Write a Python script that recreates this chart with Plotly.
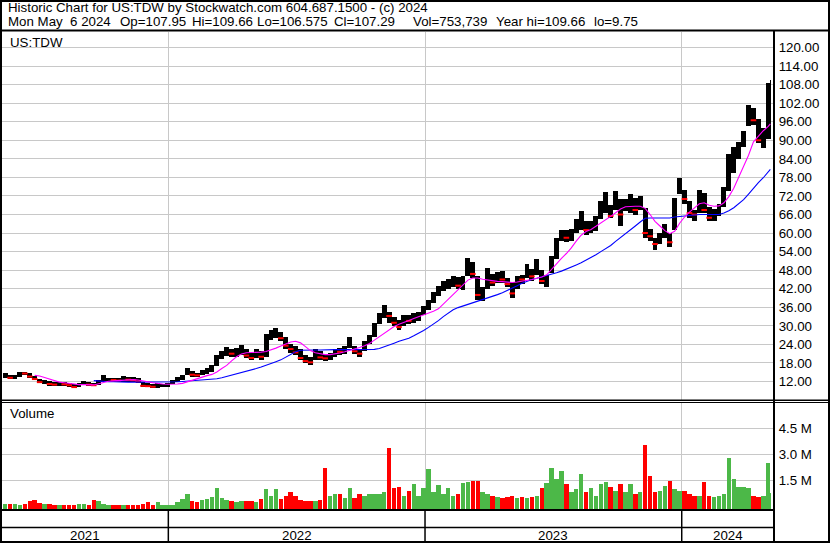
import pandas as pd
import plotly.graph_objects as go

# ---------------- data (weekly readings, last entry = single day May 6 2024) ----------------
week_dates = list(pd.date_range("2021-05-14", periods=156, freq="7D").strftime("%Y-%m-%d")) + ["2024-05-06"]

high = [14.9, 14.2, 14.0, 15.2, 15.2, 14.7, 13.9, 12.9, 12.5, 12.2,
        11.9, 11.8, 12.0, 11.6, 11.2, 11.6, 12.1, 11.8, 11.6, 12.5,
        14.0, 13.1, 13.2, 13.0, 13.8, 13.3, 13.5, 13.0, 11.8, 11.4,
        11.1, 11.4, 11.3, 11.5, 12.4, 13.3, 14.2, 16.4, 15.3, 14.8,
        15.7, 16.4, 17.5, 20.5, 22.0, 23.2, 22.5, 22.7, 23.8, 22.6,
        21.2, 22.6, 21.8, 27.5, 28.6, 29.2, 28.0, 26.5, 24.0, 23.6,
        22.5, 20.6, 20.0, 22.4, 21.8, 20.8, 21.2, 22.5, 22.8, 23.4,
        26.4, 23.6, 22.6, 25.0, 27.0, 31.0, 34.0, 36.9, 34.5, 33.0,
        31.8, 33.4, 33.5, 34.0, 34.5, 36.5, 38.5, 41.0, 43.0, 44.5,
        45.0, 46.0, 45.8, 46.0, 51.8, 50.5, 46.0, 42.5, 48.6, 46.8,
        47.5, 47.6, 45.6, 44.2, 46.2, 46.5, 50.0, 48.5, 51.5, 48.0,
        46.5, 52.5, 58.5, 61.0, 61.0, 61.2, 64.5, 67.0, 64.0, 64.0,
        65.5, 70.5, 73.3, 69.0, 73.6, 71.0, 71.0, 72.5, 71.5, 72.0,
        68.0, 61.2, 58.5, 60.0, 62.8, 60.0, 71.5, 77.7, 74.0, 70.5,
        67.5, 74.0, 73.0, 68.5, 67.8, 69.5, 75.0, 85.5, 88.0, 89.5,
        93.0, 101.3, 100.5, 97.0, 94.0, 108.5, 109.66]

low = [13.0, 12.7, 12.9, 13.6, 14.1, 13.2, 12.5, 11.4, 11.3, 10.7,
       10.5, 10.7, 10.7, 10.3, 9.75, 10.3, 10.9, 10.6, 10.4, 10.8,
       11.7, 11.8, 11.9, 11.8, 12.0, 11.8, 11.9, 11.6, 10.1, 10.1,
       9.8, 10.0, 10.3, 10.2, 11.1, 11.8, 12.4, 14.0, 13.6, 13.5,
       14.0, 14.5, 15.0, 17.0, 19.2, 20.4, 19.8, 20.0, 20.6, 19.7,
       18.8, 19.5, 19.1, 20.0, 25.5, 26.0, 25.2, 22.5, 21.2, 20.6,
       19.0, 18.0, 17.5, 18.8, 19.0, 18.5, 18.8, 19.8, 20.6, 21.0,
       22.9, 21.0, 19.9, 22.0, 24.2, 26.5, 30.5, 32.5, 31.0, 30.0,
       28.6, 29.8, 30.5, 31.0, 31.5, 33.5, 35.0, 37.5, 39.5, 41.2,
       41.8, 42.5, 42.0, 41.5, 46.0, 45.5, 38.5, 38.0, 42.0, 43.0,
       44.0, 44.0, 42.5, 39.0, 42.0, 43.5, 45.5, 44.5, 46.5, 43.5,
       42.5, 47.0, 51.5, 57.5, 57.2, 57.5, 60.0, 61.0, 59.5, 60.0,
       60.8, 64.5, 66.5, 64.8, 67.5, 62.2, 67.0, 66.5, 66.0, 67.5,
       58.5, 57.5, 54.5, 56.5, 58.5, 55.5, 61.0, 72.5, 69.5, 65.0,
       64.0, 66.5, 66.5, 63.8, 64.0, 65.5, 68.5, 73.5, 79.5, 84.0,
       88.0, 94.5, 95.0, 89.0, 87.5, 90.5, 106.575]

close = [14.2, 13.2, 13.5, 14.9, 14.6, 13.6, 12.8, 11.8, 12.0, 11.2,
         11.0, 11.3, 11.1, 10.8, 10.2, 11.3, 11.6, 11.0, 10.8, 12.2,
         12.6, 12.7, 12.5, 12.3, 13.0, 12.6, 12.4, 12.0, 10.6, 10.5,
         10.3, 10.4, 10.6, 11.2, 12.0, 12.8, 13.9, 15.0, 14.2, 14.0,
         15.0, 15.6, 17.0, 19.8, 21.2, 21.5, 21.0, 21.6, 22.8, 20.4,
         19.6, 21.0, 20.0, 26.4, 27.0, 27.5, 26.0, 23.6, 22.5, 21.4,
         19.6, 18.6, 18.2, 21.0, 19.8, 19.5, 20.6, 21.8, 21.6, 22.6,
         25.0, 21.8, 21.0, 24.2, 26.3, 30.2, 32.0, 35.0, 33.2, 31.0,
         29.6, 32.2, 31.6, 32.5, 33.8, 35.8, 37.8, 40.0, 41.5, 43.0,
         43.5, 45.2, 43.0, 45.5, 49.5, 46.8, 40.0, 41.5, 45.0, 44.0,
         46.5, 45.0, 43.5, 40.5, 45.5, 45.0, 48.5, 46.0, 48.0, 44.5,
         46.0, 51.5, 56.0, 59.5, 58.5, 59.0, 63.0, 64.5, 61.0, 61.5,
         64.0, 68.0, 68.5, 65.5, 70.5, 66.0, 69.5, 70.5, 67.5, 70.0,
         60.0, 59.0, 56.5, 59.0, 60.0, 57.0, 70.5, 74.5, 71.0, 66.5,
         66.0, 71.5, 67.5, 65.0, 66.5, 68.5, 73.5, 82.0, 85.5, 88.0,
         91.5, 97.5, 96.5, 90.0, 92.5, 106.5, 107.29]

ma_fast = [None, None, None, None, None, None, 14.0, 13.8, 13.3, 12.8,
           12.2, 11.8, 11.6, 11.4, 11.1, 11.0, 11.0, 11.0, 10.9, 11.3,
           11.8, 12.1, 12.2, 12.3, 12.4, 12.6, 12.6, 12.5, 12.3, 11.9,
           11.6, 11.3, 11.2, 11.1, 11.1, 11.2, 11.4, 11.9, 12.5, 13.1,
           13.6, 13.9, 14.3, 15.1, 16.2, 17.2, 18.7, 20.0, 20.9, 21.3,
           21.4, 21.4, 21.5, 21.7, 22.2, 22.8, 23.5, 24.2, 24.8, 25.0,
           24.5, 23.3, 22.0, 21.3, 20.9, 20.7, 20.7, 20.9, 21.2, 21.6,
           22.0, 22.5, 23.0, 23.6, 24.3, 25.4, 26.5, 27.6, 28.8, 29.8,
           30.5, 31.0, 31.7, 32.4, 33.0, 33.5, 34.0, 34.7, 35.5, 37.0,
           38.8, 40.3, 41.7, 43.3, 44.8, 45.5, 45.5, 45.1, 44.8, 44.5,
           44.4, 44.3, 44.1, 44.0, 44.2, 44.4, 44.8, 45.0, 45.4, 45.8,
           46.5, 48.3, 50.2, 51.8, 53.4, 55.2, 57.4, 59.3, 60.5, 61.2,
           62.2, 63.2, 64.3, 65.4, 66.6, 67.8, 68.5, 68.7, 68.7, 68.7,
           68.0, 66.0, 63.8, 62.3, 60.8, 59.8, 60.6, 63.2, 65.2, 66.8,
           68.2, 69.5, 69.8, 69.0, 68.7, 68.8, 69.8, 71.8, 74.5, 78.0,
           81.5, 85.2, 89.5, 91.4, 93.1, 94.5, 95.3]

ma_slow = [None, None, None, None, None, None, None, None, None, None,
           None, None, None, None, None, None, None, None, 12.3, 12.1,
           12.0, 11.9, 11.9, 11.8, 11.8, 11.8, 11.8, 11.8, 11.7, 11.7,
           11.7, 11.7, 11.7, 11.8, 11.8, 11.9, 12.0, 12.1, 12.2, 12.4,
           12.5, 12.6, 12.7, 12.9, 13.2, 13.6, 14.0, 14.5, 15.0, 15.4,
           15.8, 16.2, 16.7, 17.2, 17.8, 18.4, 19.0, 19.8, 20.8, 21.6,
           22.1, 22.2, 22.2, 22.2, 22.2, 22.3, 22.3, 22.3, 22.3, 22.3,
           22.3, 22.3, 22.3, 22.3, 22.3, 22.4, 22.7, 23.2, 23.8, 24.4,
           25.0, 25.5, 26.0, 26.8, 27.6, 28.5, 29.5, 30.5, 31.7, 33.0,
           34.2, 35.2, 35.9, 36.4, 37.0, 37.5, 38.0, 38.5, 39.0, 39.6,
           40.1, 40.7, 41.4, 42.2, 43.0, 43.8, 44.5, 45.0, 45.4, 45.8,
           46.2, 46.7, 47.2, 47.7, 48.3, 49.0, 49.7, 50.4, 51.2, 52.0,
           53.0, 54.0, 55.0, 56.0, 57.3, 58.5, 59.8, 61.0, 62.3, 63.6,
           64.8, 64.9, 64.9, 64.9, 64.9, 64.9, 65.2, 65.4, 65.6, 65.8,
           65.9, 66.0, 66.0, 66.0, 66.0, 66.0, 66.5, 67.2, 68.2, 69.4,
           70.8, 72.6, 74.6, 76.3, 77.9, 79.6, 80.6]

volume_m = [0.12, 0.15, 0.13, 0.10, 0.12, 0.30, 0.35, 0.18, 0.15, 0.15,
            0.08, 0.08, 0.07, 0.08, 0.10, 0.15, 0.12, 0.08, 0.35, 0.30,
            0.12, 0.10, 0.10, 0.09, 0.10, 0.08, 0.09, 0.10, 0.12, 0.25,
            0.10, 0.25, 0.10, 0.05, 0.08, 0.25, 0.42, 0.70, 0.30, 0.25,
            0.35, 0.45, 0.55, 1.06, 0.50, 0.35, 0.30, 0.25, 0.30, 0.30,
            0.28, 0.25, 0.45, 1.00, 0.60, 1.00, 0.40, 0.58, 0.80, 0.60,
            0.35, 0.30, 0.30, 0.30, 0.35, 2.23, 0.60, 0.70, 0.70, 0.50,
            1.04, 0.50, 0.73, 0.60, 0.70, 0.70, 0.70, 0.80, 3.38, 1.04,
            1.10, 0.60, 0.90, 1.27, 0.60, 1.04, 2.15, 0.80, 1.23, 0.70,
            1.04, 0.60, 0.70, 1.37, 1.42, 1.45, 1.45, 0.80, 0.70, 0.60,
            0.55, 0.50, 0.55, 0.60, 0.50, 0.55, 0.50, 0.55, 0.60, 1.08,
            1.33, 2.20, 1.58, 2.04, 1.27, 0.80, 1.00, 1.85, 0.80, 1.04,
            0.60, 1.30, 1.40, 1.10, 0.90, 1.27, 0.80, 1.29, 0.70, 0.80,
            3.54, 1.75, 0.80, 0.90, 1.17, 1.46, 1.00, 0.90, 0.90, 0.70,
            0.60, 0.60, 1.38, 0.60, 0.55, 0.60, 0.70, 2.80, 1.60, 1.10,
            1.10, 1.05, 0.60, 0.55, 0.60, 2.50, 0.754]

price_ticks = [12, 18, 24, 30, 36, 42, 48, 54, 60, 66, 72, 78, 84, 90, 96, 102, 108, 114, 120]
volume_ticks = [1.5, 3.0, 4.5]
year_labels = ["2021", "2022", "2023", "2024"]

header_1 = "Historic Chart for US:TDW by Stockwatch.com 604.687.1500 - (c) 2024"
header_2_fields = ["Mon May  6 2024", "Op=107.95", "Hi=109.66", "Lo=106.575",
                   "Cl=107.29", "Vol=753,739", "Year hi=109.66", "lo=9.75"]

# ---------------- geometry helpers ----------------
W, H = 830, 543
FONT = "Arial, 'Liberation Sans', sans-serif"
GRID = "#C8C8C8"
RED = "#FF0000"
GREEN = "#4CB848"
DAY_MS = 86400000


def py(p):
    return 1 - p / H


def pxf(p):
    return p / W


x_start = pd.Timestamp("2021-05-09 12:00")
x_end = pd.Timestamp("2024-05-11 05:00")
right_edge = 774

n = len(week_dates)
bar_w = [7.0 * DAY_MS] * (n - 1) + [1.3 * DAY_MS]
vol_w = [6.3 * DAY_MS] * (n - 1) + [1.2 * DAY_MS]

down = [False] + [close[i] < close[i - 1] for i in range(1, n)]
vol_colors = [RED if d else GREEN for d in down]

fig = go.Figure()

# price range bars (high-low)
fig.add_trace(go.Bar(
    x=week_dates, y=[h - l for h, l in zip(high, low)], base=low,
    width=bar_w, marker=dict(color="black", line=dict(width=0)),
    xaxis="x", yaxis="y", showlegend=False, hoverinfo="skip"))

# red close ticks on down weeks
fig.add_trace(go.Scatter(
    x=[d for d, dn in zip(week_dates, down) if dn],
    y=[c for c, dn in zip(close, down) if dn],
    mode="markers",
    marker=dict(symbol="line-ew", size=4, line=dict(color=RED, width=2)),
    xaxis="x", yaxis="y", showlegend=False, hoverinfo="skip"))

# moving averages
fig.add_trace(go.Scatter(x=week_dates, y=ma_slow, mode="lines",
                         line=dict(color="#0000FF", width=1.1),
                         xaxis="x", yaxis="y", showlegend=False, hoverinfo="skip"))
fig.add_trace(go.Scatter(x=week_dates, y=ma_fast, mode="lines",
                         line=dict(color="#FF00FF", width=1.1),
                         xaxis="x", yaxis="y", showlegend=False, hoverinfo="skip"))

# volume
vol_floor = -0.185
fig.add_trace(go.Bar(
    x=week_dates, y=[v - vol_floor for v in volume_m], base=vol_floor,
    width=vol_w, marker=dict(color=vol_colors, line=dict(width=0)),
    xaxis="x2", yaxis="y2", showlegend=False, hoverinfo="skip"))

xdom = [pxf(2), pxf(right_edge)]
axis_common = dict(domain=xdom, range=[x_start, x_end], type="date",
                   showticklabels=False, showgrid=True, gridcolor=GRID, gridwidth=1,
                   tick0="2022-01-01", dtick="M12", ticks="", zeroline=False,
                   showline=False, fixedrange=True)

fig.update_layout(
    width=W, height=H,
    margin=dict(l=0, r=0, t=0, b=0),
    paper_bgcolor="white", plot_bgcolor="white",
    font=dict(family=FONT, size=13.3, color="black"),
    bargap=0,
    xaxis=dict(anchor="y", **axis_common),
    xaxis2=dict(anchor="y2", matches="x", **axis_common),
    yaxis=dict(domain=[py(400), py(31.5)], range=[6.02, 125.2], side="right",
               tickvals=price_ticks, ticktext=[f"{v:.2f}" for v in price_ticks],
               showgrid=True, gridcolor=GRID, gridwidth=1, zeroline=False,
               showline=False, ticks="outside", ticklen=1, tickcolor="rgba(0,0,0,0)",
               tickfont=dict(family=FONT, size=13.3, color="black"), fixedrange=True),
    yaxis2=dict(domain=[py(509.5), py(402.5)], range=[vol_floor, 5.99], side="right",
                tickvals=volume_ticks, ticktext=[f"{v:.1f} M" for v in volume_ticks],
                showgrid=True, gridcolor=GRID, gridwidth=1, zeroline=False,
                showline=False, ticks="outside", ticklen=1, tickcolor="rgba(0,0,0,0)",
                tickfont=dict(family=FONT, size=13.3, color="black"), fixedrange=True),
)

shapes = []
blk = "black"
# outer frame
shapes.append(dict(type="rect", xref="paper", yref="paper", x0=0, x1=1, y0=0, y1=1,
                   line=dict(color=blk, width=4), layer="above"))
# header bottom
shapes.append(dict(type="line", xref="paper", yref="paper", x0=0, x1=1, y0=py(30.5), y1=py(30.5),
                   line=dict(color=blk, width=2), layer="above"))
# right divider
shapes.append(dict(type="line", xref="paper", yref="paper", x0=pxf(right_edge), x1=pxf(right_edge),
                   y0=py(30.5), y1=0, line=dict(color=blk, width=2), layer="above"))
# price / volume separators
shapes.append(dict(type="line", xref="paper", yref="paper", x0=0, x1=1, y0=py(400.3), y1=py(400.3),
                   line=dict(color=blk, width=1.5), layer="above"))
shapes.append(dict(type="line", xref="paper", yref="paper", x0=0, x1=1, y0=py(402.5), y1=py(402.5),
                   line=dict(color=blk, width=1.2), layer="above"))
# volume bottom and date band middle line
shapes.append(dict(type="line", xref="paper", yref="paper", x0=0, x1=pxf(right_edge), y0=py(510), y1=py(510),
                   line=dict(color=blk, width=2), layer="above"))
shapes.append(dict(type="line", xref="paper", yref="paper", x0=0, x1=pxf(right_edge), y0=py(527.5), y1=py(527.5),
                   line=dict(color=blk, width=1.5), layer="above"))
# year dividers in date band
year_starts = [pd.Timestamp(f"{y}-01-01") for y in year_labels[1:]]
for ys in year_starts:
    shapes.append(dict(type="line", xref="x", yref="paper", x0=ys, x1=ys, y0=py(510), y1=0,
                       line=dict(color=blk, width=1.5), layer="above"))

bounds = [x_start] + year_starts + [x_end]
annotations = []
for i, lab in enumerate(year_labels):
    mid = bounds[i] + (bounds[i + 1] - bounds[i]) / 2
    annotations.append(dict(x=mid, y=py(535), xref="x", yref="paper", text=lab,
                            showarrow=False, xanchor="center", yanchor="middle",
                            font=dict(family=FONT, size=13.3, color="black")))


def nb(s):
    return s.replace(" ", "\u00a0")


def txt(s, xp, yp):
    return dict(x=pxf(xp), y=py(yp), xref="paper", yref="paper", text=nb(s), showarrow=False,
                xanchor="left", yanchor="middle", font=dict(family=FONT, size=13.3, color="black"))


annotations.append(txt(header_1, 6, 8))
header_2_x = [6, 118, 190, 255, 332, 411, 494, 592]
for s, xp in zip(header_2_fields, header_2_x):
    annotations.append(txt(s, xp, 21.5))
annotations.append(txt("US:TDW", 8, 42))
annotations.append(txt("Volume", 8, 413.5))

fig.update_layout(shapes=shapes, annotations=annotations)

fig.write_html("out.html", config={"displayModeBar": False, "staticPlot": True})

with open("out.html", "r", encoding="utf-8") as f:
    html = f.read()
html = html.replace("<head>", "<head><style>html,body{margin:0;padding:0;overflow:hidden;}</style>", 1)
with open("out.html", "w", encoding="utf-8") as f:
    f.write(html)
